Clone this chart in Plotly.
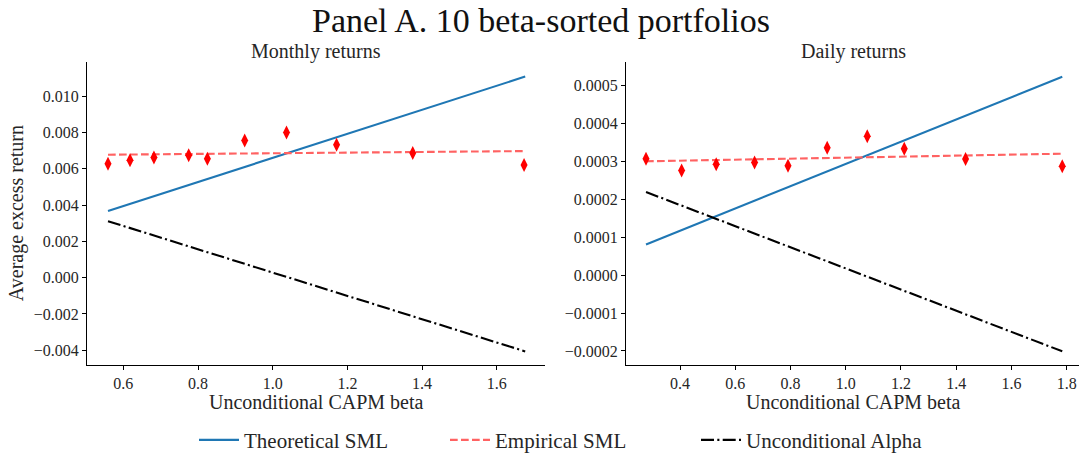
import plotly.graph_objects as go

# ---------------- data ----------------
monthly_beta = [0.559, 0.618, 0.682, 0.775, 0.825, 0.925, 1.037, 1.171, 1.375, 1.673]
monthly_ret = [0.00627, 0.00647, 0.00661, 0.00674, 0.00654, 0.00755, 0.00799, 0.00732, 0.00686, 0.00620]
monthly_line_x = [0.559, 1.676]
monthly_theoretical = [0.00367, 0.01107]
monthly_empirical = [0.00677, 0.00697]
monthly_alpha = [0.00311, -0.00406]

daily_beta = [0.277, 0.406, 0.531, 0.670, 0.791, 0.933, 1.078, 1.212, 1.434, 1.784]
daily_ret = [0.000307, 0.000276, 0.000292, 0.000297, 0.000288, 0.000336, 0.000366, 0.000333, 0.000306, 0.000287]
daily_line_x = [0.277, 1.784]
daily_theoretical = [0.0000807, 0.000523]
daily_empirical = [0.000300, 0.000320]
daily_alpha = [0.000219, -0.000201]

series_names = ["Theoretical SML", "Empirical SML", "Unconditional Alpha"]

# ---------------- styles ----------------
FONT = "Liberation Serif"
W, H = 1082, 461
BLUE = "#1f77b4"
RED = "#ff6262"
BLACK = "#000000"
LW = 2.1
DASH = "7.7px,3.3px"
DASHDOT = "13px,3.3px,2.1px,3.3px"

fig = go.Figure()

panels = [
    ("x", "y", monthly_beta, monthly_ret, monthly_line_x,
     monthly_theoretical, monthly_empirical, monthly_alpha, True),
    ("x2", "y2", daily_beta, daily_ret, daily_line_x,
     daily_theoretical, daily_empirical, daily_alpha, False),
]

for xa, ya, bx, by, lx, th, em, al, show in panels:
    fig.add_trace(go.Scatter(x=lx, y=th, mode="lines", xaxis=xa, yaxis=ya,
                             name=series_names[0], showlegend=show,
                             line=dict(color=BLUE, width=LW)))
    fig.add_trace(go.Scatter(x=lx, y=em, mode="lines", xaxis=xa, yaxis=ya,
                             name=series_names[1], showlegend=show,
                             line=dict(color=RED, width=LW, dash=DASH)))
    fig.add_trace(go.Scatter(x=lx, y=al, mode="lines", xaxis=xa, yaxis=ya,
                             name=series_names[2], showlegend=show,
                             line=dict(color=BLACK, width=LW, dash=DASHDOT)))
    fig.add_trace(go.Scatter(x=bx, y=by, mode="markers", xaxis=xa, yaxis=ya,
                             showlegend=False,
                             marker=dict(symbol="diamond-tall", size=10, color="red",
                                         line=dict(width=0))))

def px_x(p):
    return p / W

def px_y(p):
    return 1 - p / H

axis_common = dict(showline=True, linecolor="black", linewidth=1.1, ticks="outside",
                   ticklen=4, tickwidth=1.1, tickcolor="black", showgrid=False,
                   zeroline=False, mirror=False,
                   tickfont=dict(family=FONT, size=16, color="#262626"))

fig.update_layout(
    width=W, height=H,
    margin=dict(l=0, r=0, t=0, b=0),
    paper_bgcolor="white", plot_bgcolor="white",
    font=dict(family=FONT, color="#262626"),
    title=dict(text="Panel A. 10 beta-sorted portfolios", x=0.5, xanchor="center",
               y=px_y(20), yanchor="middle",
               font=dict(family=FONT, size=34, color="#111111")),
    xaxis=dict(domain=[px_x(87), px_x(545)], range=[0.5028, 1.729], anchor="y",
               dtick=0.2, tick0=0.0, tickformat=".1f", **axis_common),
    yaxis=dict(domain=[px_y(370), px_y(63)], range=[-0.00482, 0.011864], anchor="x",
               dtick=0.002, tick0=0.0, tickformat=".3f", **axis_common),
    xaxis2=dict(domain=[px_x(626), px_x(1079)], range=[0.2045, 1.8446], anchor="y2",
                dtick=0.2, tick0=0.0, tickformat=".1f", **axis_common),
    yaxis2=dict(domain=[px_y(370), px_y(63)], range=[-0.0002376, 0.0005613], anchor="x2",
                dtick=0.0001, tick0=0.0, tickformat=".4f", **axis_common),
    legend=dict(orientation="h", x=px_x(194), xanchor="left", y=px_y(446), yanchor="middle",
                font=dict(family=FONT, size=21, color="#262626"),
                bgcolor="rgba(0,0,0,0)", itemwidth=40,
                entrywidth=196, entrywidthmode="pixels"),
    annotations=[
        dict(text="Monthly returns", x=px_x(316), y=px_y(52), xref="paper", yref="paper",
             xanchor="center", yanchor="middle", showarrow=False,
             font=dict(family=FONT, size=20, color="#262626")),
        dict(text="Daily returns", x=px_x(853), y=px_y(52), xref="paper", yref="paper",
             xanchor="center", yanchor="middle", showarrow=False,
             font=dict(family=FONT, size=20, color="#262626")),
        dict(text="Unconditional CAPM beta", x=px_x(316), y=px_y(407), xref="paper",
             yref="paper", xanchor="center", yanchor="middle", showarrow=False,
             font=dict(family=FONT, size=20, color="#262626")),
        dict(text="Unconditional CAPM beta", x=px_x(853), y=px_y(407), xref="paper",
             yref="paper", xanchor="center", yanchor="middle", showarrow=False,
             font=dict(family=FONT, size=20, color="#262626")),
        dict(text="Average excess return", x=px_x(16), y=px_y(216), xref="paper",
             yref="paper", xanchor="center", yanchor="middle", showarrow=False,
             textangle=-90, font=dict(family=FONT, size=20, color="#262626")),
    ],
)

fig.write_html("out.html")
